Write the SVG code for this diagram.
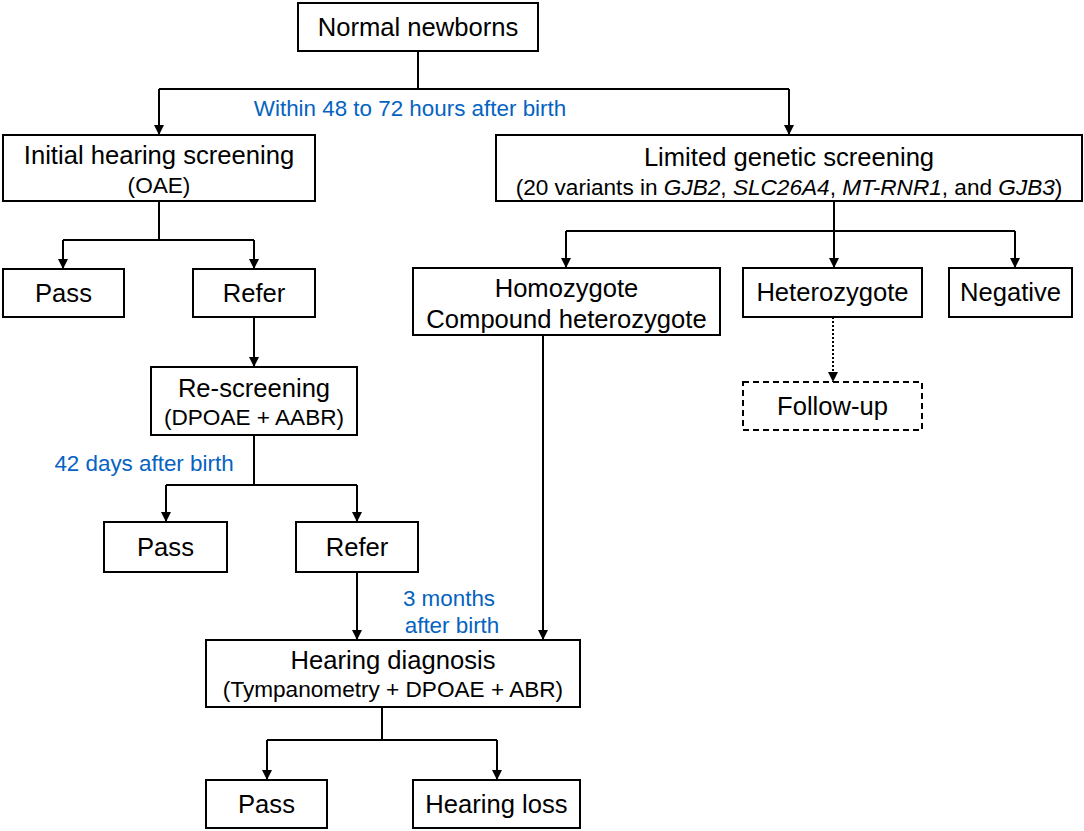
<svg xmlns="http://www.w3.org/2000/svg" width="1084" height="831" viewBox="0 0 1084 831">
<defs>
<marker id="ah" markerUnits="userSpaceOnUse" markerWidth="10" markerHeight="11" refX="10" refY="5" orient="auto">
<path d="M0,0 L10,5 L0,10 z" fill="#000"/>
</marker>
<style>
.box{fill:#fff;stroke:#000;stroke-width:2}
.dash{fill:#fff;stroke:#000;stroke-width:2;stroke-dasharray:6,4}
.t{font-family:"Liberation Sans",Arial,sans-serif;font-size:25.6px;fill:#000;text-anchor:middle}
.s{font-family:"Liberation Sans",Arial,sans-serif;font-size:22.6px;fill:#000;text-anchor:middle}
.b{font-family:"Liberation Sans",Arial,sans-serif;font-size:22.4px;fill:#0563c1;text-anchor:middle}
.c{fill:none;stroke:#000;stroke-width:2}
.a{fill:none;stroke:#000;stroke-width:2;marker-end:url(#ah)}
.d{fill:none;stroke:#000;stroke-width:2;stroke-dasharray:2,2;marker-end:url(#ah)}
</style>
</defs>
<rect width="1084" height="831" fill="#fff"/>
<g id="connectors">
<path class="c" d="M418,51 V89 M159,89 H789 M159,201 V240 M63,240 H254 M254,435 V485 M166,485 H357 M382,707 V740 M267,740 H497 M834,201 V231 M566,231 H1015"/>
<path class="a" d="M159,89 V135"/>
<path class="a" d="M789,89 V135"/>
<path class="a" d="M63,240 V269"/>
<path class="a" d="M254,240 V269"/>
<path class="a" d="M254,317 V367"/>
<path class="a" d="M166,485 V522"/>
<path class="a" d="M357,485 V522"/>
<path class="a" d="M357,572 V640"/>
<path class="a" d="M543,335 V640"/>
<path class="a" d="M267,740 V780"/>
<path class="a" d="M497,740 V780"/>
<path class="a" d="M566,231 V268"/>
<path class="a" d="M834,231 V268"/>
<path class="a" d="M1015,231 V268"/>
<path class="d" d="M833,317 V382"/>
</g>
<g id="labels">
<text class="b" x="410" y="116">Within 48 to 72 hours after birth</text>
<text class="b" x="144" y="471">42 days after birth</text>
<text class="b" x="449" y="606">3 months</text>
<text class="b" x="452" y="633">after birth</text>
</g>
<g id="n_newborns"><rect class="box" x="298" y="3" width="240" height="48"/><text class="t" x="418" y="36">Normal newborns</text></g>
<g id="n_initial"><rect class="box" x="3" y="135" width="312" height="66"/><text class="t" x="159" y="164">Initial hearing screening</text><text class="s" x="159" y="193">(OAE)</text></g>
<g id="n_genetic"><rect class="box" x="496" y="135" width="586" height="66"/><text class="t" x="789" y="166">Limited genetic screening</text><text class="s" x="789" y="195">(20 variants in <tspan font-style="italic">GJB2</tspan>, <tspan font-style="italic">SLC26A4</tspan>, <tspan font-style="italic">MT-RNR1</tspan>, and <tspan font-style="italic">GJB3</tspan>)</text></g>
<g id="n_pass1"><rect class="box" x="3" y="269" width="121" height="48"/><text class="t" x="63.5" y="302">Pass</text></g>
<g id="n_refer1"><rect class="box" x="193" y="269" width="122" height="48"/><text class="t" x="254" y="302">Refer</text></g>
<g id="n_rescreen"><rect class="box" x="151" y="367" width="206" height="68"/><text class="t" x="254" y="397">Re-screening</text><text class="s" x="254" y="425">(DPOAE + AABR)</text></g>
<g id="n_pass2"><rect class="box" x="104" y="522" width="123" height="50"/><text class="t" x="165.5" y="556">Pass</text></g>
<g id="n_refer2"><rect class="box" x="296" y="522" width="122" height="50"/><text class="t" x="357" y="556">Refer</text></g>
<g id="n_diag"><rect class="box" x="206" y="640" width="374" height="67"/><text class="t" x="393" y="669">Hearing diagnosis</text><text class="s" x="393" y="697">(Tympanometry + DPOAE + ABR)</text></g>
<g id="n_pass3"><rect class="box" x="206" y="780" width="121" height="48"/><text class="t" x="266.5" y="813">Pass</text></g>
<g id="n_loss"><rect class="box" x="413" y="780" width="167" height="48"/><text class="t" x="496.5" y="813">Hearing loss</text></g>
<g id="n_homo"><rect class="box" x="413" y="268" width="307" height="67"/><text class="t" x="566.5" y="297">Homozygote</text><text class="t" x="566.5" y="328">Compound heterozygote</text></g>
<g id="n_hetero"><rect class="box" x="743" y="268" width="179" height="49"/><text class="t" x="832.5" y="301">Heterozygote</text></g>
<g id="n_neg"><rect class="box" x="949" y="268" width="123" height="49"/><text class="t" x="1010.5" y="301">Negative</text></g>
<g id="n_follow"><rect class="dash" x="743" y="382" width="179" height="48"/><text class="t" x="832.5" y="415">Follow-up</text></g>
</svg>
